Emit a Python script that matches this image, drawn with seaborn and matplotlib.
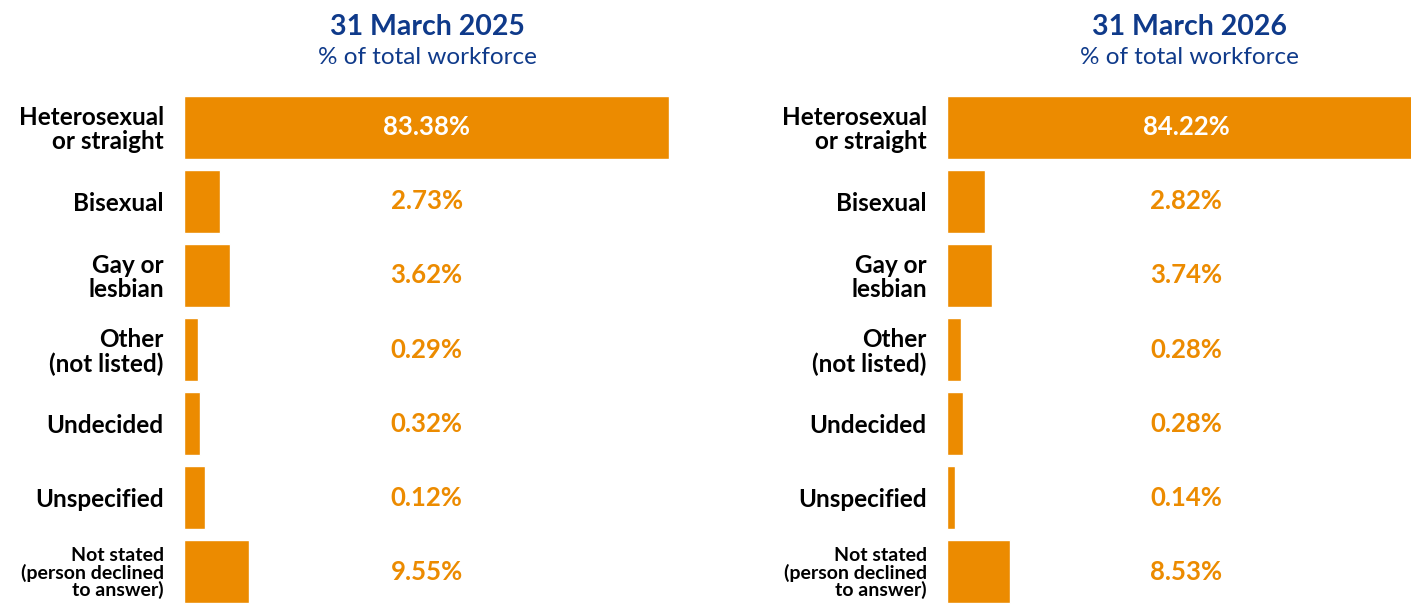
import matplotlib
matplotlib.use("Agg")
import matplotlib.pyplot as plt
import pandas as pd
import seaborn as sns

# Categorias e valores (rótulos).
categorias = [
    "Heterosexual\nor straight",
    "Bisexual",
    "Gay or\nlesbian",
    "Other\n(not listed)",
    "Undecided",
    "Unspecified",
    "Not stated\n(person declined\nto answer)",
]
pct_2025 = [83.38, 2.73, 3.62, 0.29, 0.32, 0.12, 9.55]
pct_2026 = [84.22, 2.82, 3.74, 0.28, 0.28, 0.14, 8.53]

# Comprimento das barras como desenhadas no original (em pontos percentuais).
barra_2025 = [83.38, 6.2, 7.9, 2.4, 2.75, 3.6, 11.2]
barra_2026 = [84.22, 6.7, 7.9, 2.5, 2.8, 1.4, 11.1]

titulos = ["31 March 2025", "31 March 2026"]
subtitulo = "% of total workforce"

LARANJA = "#ec8b00"
AZUL = "#0f3a8a"
LATO = ["Lato", "DejaVu Sans"]

sns.set_theme(style="white")
plt.rcParams["font.family"] = LATO

W, H = 1411, 604
fig = plt.figure(figsize=(W / 100, H / 100), dpi=100)


def painel(x0_px, x1_px, px_por_pct, barras, valores, titulo, centro_titulo):
    # Eixo posicionado em pixels: linhas com passo de ~74 px.
    topo, base = 90, 609
    ax = fig.add_axes([x0_px / W, 1 - base / H, (x1_px - x0_px) / W, (base - topo) / H])
    df = pd.DataFrame({"cat": categorias, "barra": barras})
    sns.barplot(data=df, x="barra", y="cat", color=LARANJA, width=0.85,
                saturation=1, ax=ax)
    ax.set_xlim(0, (x1_px - x0_px) / px_por_pct)
    ax.set_ylim(len(categorias) - 0.5, -0.5)
    ax.set_xlabel("")
    ax.set_ylabel("")
    ax.set_xticks([])
    sns.despine(ax=ax, left=True, bottom=True)
    ax.tick_params(axis="y", length=0, pad=14.5)
    for i, t in enumerate(ax.get_yticklabels()):
        t.set_fontweight("bold")
        t.set_color("black")
        if i == len(categorias) - 1:
            t.set_fontsize(14)
            t.set_linespacing(0.95)
        else:
            t.set_fontsize(17.5)
            t.set_linespacing(1.05)

    xc = valores[0] / 2
    for i, v in enumerate(valores):
        cor = "white" if i == 0 else LARANJA
        ax.text(xc, i, f"{v:.2f}%", ha="center", va="center", color=cor,
                fontsize=18.5, fontweight="bold")

    fig.text(centro_titulo / W, 1 - 27 / H, titulo, ha="center", va="center",
             color=AZUL, fontsize=20.5, fontweight="bold")
    fig.text(centro_titulo / W, 1 - 58 / H, subtitulo, ha="center", va="center",
             color=AZUL, fontsize=17.5)
    return ax


painel(184, 705, 5.82, barra_2025, pct_2025, titulos[0], 427)
painel(947, 1411, 5.68, barra_2026, pct_2026, titulos[1], 1189)

fig.savefig("out.png", dpi=100, facecolor="white")
